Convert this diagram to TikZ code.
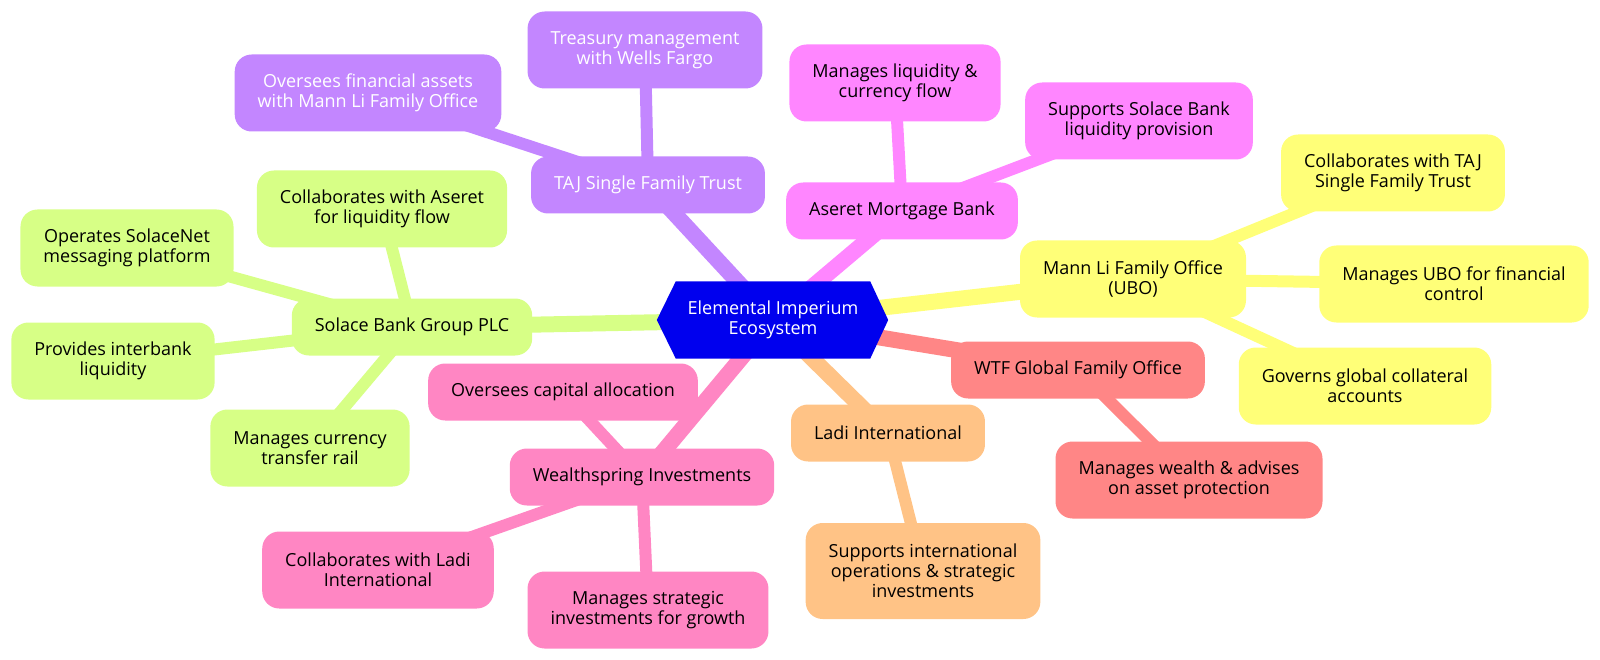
\documentclass[tikz,border=0pt]{standalone}
\usepackage{fontspec}
\setmainfont{Open Sans}
\usepackage{tikz}

\definecolor{rootcol}{RGB}{0,0,238}
\definecolor{tajcol}{HTML}{C386FF}
\definecolor{aseretcol}{HTML}{FF86FF}
\definecolor{manncol}{HTML}{FFFF78}
\definecolor{wtfcol}{HTML}{FF8686}
\definecolor{ladicol}{HTML}{FFC386}
\definecolor{wealthcol}{HTML}{FF86C3}
\definecolor{solacecol}{HTML}{D7FF86}

\newcommand{\mapfont}{\fontsize{18}{20}\selectfont}

\pgfdeclarelayer{background}
\pgfsetlayers{background,main}

\tikzset{
  idea/.style={rounded corners=17pt, align=center, inner xsep=23pt,
               inner ysep=0pt, font=\mapfont, text=black},
  one/.style={minimum height=57pt},
  two/.style={minimum height=77pt},
  three/.style={minimum height=96pt},
  tajbox/.style={idea, fill=tajcol, text=white},
  aseretbox/.style={idea, fill=aseretcol},
  mannbox/.style={idea, fill=manncol},
  wtfbox/.style={idea, fill=wtfcol},
  ladibox/.style={idea, fill=ladicol},
  wealthbox/.style={idea, fill=wealthcol},
  solacebox/.style={idea, fill=solacecol},
  trunk/.style={line width=16pt},
  twig/.style={line width=12pt},
}

\begin{document}
\begin{tikzpicture}[x=1pt, y=-1pt]
    \useasboundingbox (0,0) rectangle (1600,660);

    % root
    \node[align=center, inner sep=0pt, minimum width=194pt, minimum height=77pt,
          font=\mapfont, text=white] (root) at (773,320) {Elemental Imperium\\Ecosystem};

    % TAJ branch
    \node[tajbox, one] (taj) at (648,185) {TAJ Single Family Trust};
    \node[tajbox, two] (treasury) at (645,50) {Treasury management\\with Wells Fargo};
    \node[tajbox, two] (assets) at (368,93) {Oversees financial assets\\with Mann Li Family Office};

    % Aseret branch
    \node[aseretbox, one] (aseret) at (902,211) {Aseret Mortgage Bank};
    \node[aseretbox, two] (liquidity) at (895,83) {Manages liquidity \&\\currency flow};
    \node[aseretbox, two] (provision) at (1139,121) {Supports Solace Bank\\liquidity provision};

    % Mann Li branch
    \node[mannbox, two] (mann) at (1133,279) {Mann Li Family Office\\(UBO)};
    \node[mannbox, two] (collabtaj) at (1393,173) {Collaborates with TAJ\\Single Family Trust};
    \node[mannbox, two] (ubo) at (1454,284) {Manages UBO for financial\\control};
    \node[mannbox, two] (governs) at (1365,386) {Governs global collateral\\accounts};

    % WTF branch
    \node[wtfbox, one] (wtf) at (1078,370) {WTF Global Family Office};
    \node[wtfbox, two] (protect) at (1189,480) {Manages wealth \& advises\\on asset protection};

    % Ladi branch
    \node[ladibox, one] (ladi) at (888,433) {Ladi International};
    \node[ladibox, three] (intl) at (923,571) {Supports international\\operations \& strategic\\investments};

    % Wealthspring branch
    \node[wealthbox, one] (wealth) at (642,477) {Wealthspring Investments};
    \node[wealthbox, one] (capital) at (563,392) {Oversees capital allocation};
    \node[wealthbox, two] (collabladi) at (378,570) {Collaborates with Ladi\\International};
    \node[wealthbox, two] (growth) at (648,610) {Manages strategic\\investments for growth};

    % Solace branch
    \node[solacebox, one] (solace) at (412,327) {Solace Bank Group PLC};
    \node[solacebox, two] (collabaseret) at (382,209) {Collaborates with Aseret\\for liquidity flow};
    \node[solacebox, two] (solacenet) at (127,248) {Operates SolaceNet\\messaging platform};
    \node[solacebox, two] (interbank) at (113,361) {Provides interbank\\liquidity};
    \node[solacebox, two] (rail) at (310,448) {Manages currency\\transfer rail};

    \begin{pgfonlayer}{background}
    \draw[trunk, tajcol] (root.center) -- (taj.center);
    \draw[twig, tajcol] (taj.center) -- (treasury.center);
    \draw[twig, tajcol] (taj.center) -- (assets.center);

    \draw[trunk, aseretcol] (root.center) -- (aseret.center);
    \draw[twig, aseretcol] (aseret.center) -- (liquidity.center);
    \draw[twig, aseretcol] (aseret.center) -- (provision.center);

    \draw[trunk, manncol] (root.center) -- (mann.center);
    \draw[twig, manncol] (mann.center) -- (collabtaj.center);
    \draw[twig, manncol] (mann.center) -- (ubo.center);
    \draw[twig, manncol] (mann.center) -- (governs.center);

    \draw[trunk, wtfcol] (root.center) -- (wtf.center);
    \draw[twig, wtfcol] (wtf.center) -- (protect.center);

    \draw[trunk, ladicol] (root.center) -- (ladi.center);
    \draw[twig, ladicol] (ladi.center) -- (intl.center);

    \draw[trunk, wealthcol] (root.center) -- (wealth.center);
    \draw[twig, wealthcol] (wealth.center) -- (capital.center);
    \draw[twig, wealthcol] (wealth.center) -- (collabladi.center);
    \draw[twig, wealthcol] (wealth.center) -- (growth.center);

    \draw[trunk, solacecol] (root.center) -- (solace.center);
    \draw[twig, solacecol] (solace.center) -- (collabaseret.center);
    \draw[twig, solacecol] (solace.center) -- (solacenet.center);
    \draw[twig, solacecol] (solace.center) -- (interbank.center);
    \draw[twig, solacecol] (solace.center) -- (rail.center);

    % hexagon behind the root text
    \fill[rootcol] (root.north west) -- (root.north east) -- ([xshift=18pt]root.east)
        -- (root.south east) -- (root.south west) -- ([xshift=-19pt]root.west) -- cycle;
    \end{pgfonlayer}
  \end{tikzpicture}
\end{document}
